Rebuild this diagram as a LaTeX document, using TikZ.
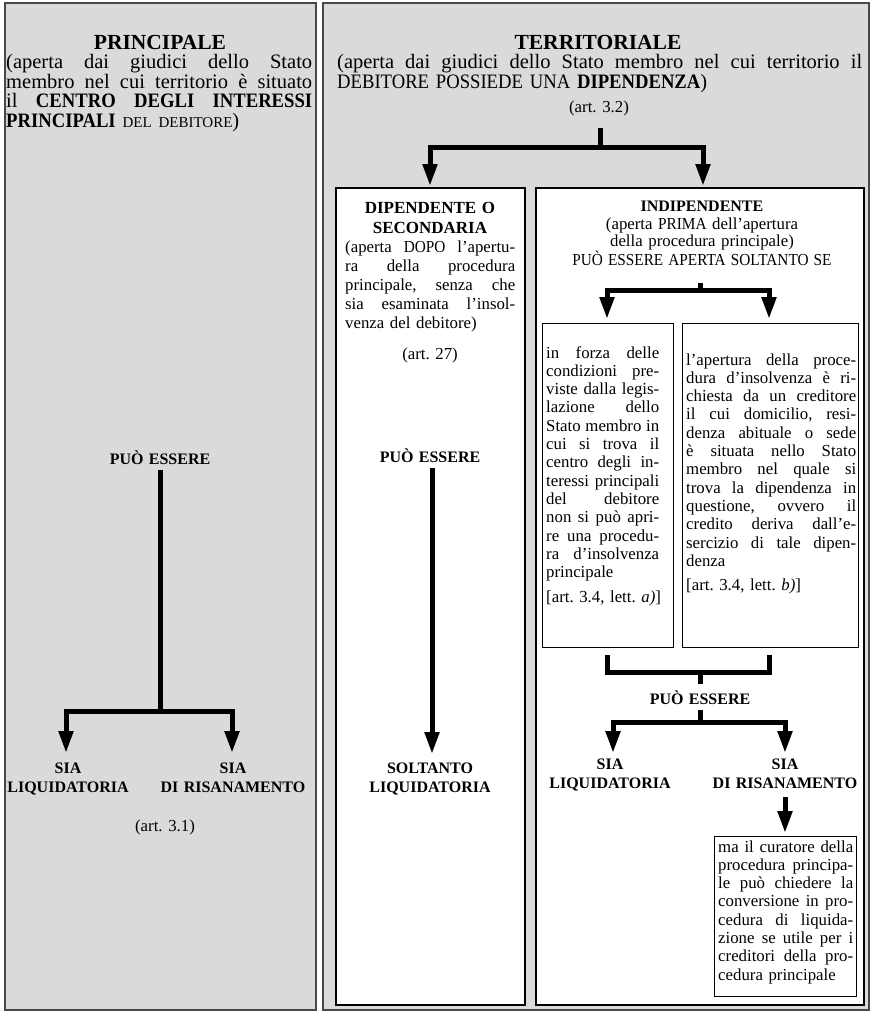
\documentclass[tikz,border=0pt]{standalone}
\usepackage{fontspec}
\usepackage{graphicx}
\setmainfont{Liberation Serif}
\usetikzlibrary{arrows.meta}
\definecolor{panelgray}{RGB}{217,218,220}
\definecolor{framegray}{RGB}{72,72,72}
\newcommand\J[1]{\makebox[\hsize][s]{\spaceskip=0pt\xspaceskip=0pt #1}}
\newcommand\Cn[1]{\scalebox{0.91}[1]{#1}}
\hfuzz=200pt
\frenchspacing
\begin{document}
\begin{tikzpicture}[x=1pt,y=-1pt,
  panel/.style={draw=framegray,fill=panelgray,line width=2pt},
  wbox/.style={draw=black,fill=white,line width=1.3pt},
  sbox/.style={draw=black,fill=white,line width=1pt},
  title/.style={font=\fontsize{21.5}{24}\selectfont\bfseries,inner sep=0pt,anchor=base},
  hdr/.style={font=\fontsize{20.5}{19.5}\selectfont\parindent0pt\frenchspacing,inner sep=0pt,align=left,anchor=base west},
  body/.style={font=\fontsize{16.8}{18.3}\selectfont\parindent0pt\frenchspacing,inner sep=0pt,align=left,anchor=base west},
  ctext/.style={font=\fontsize{16.8}{17.5}\selectfont\frenchspacing,inner sep=0pt,align=center,anchor=base,text width=300pt},
  lbl/.style={font=\fontsize{16}{19.5}\selectfont\bfseries,inner sep=0pt,align=center,anchor=base,text width=200pt},
  bar/.style={line width=5pt},
  arr/.style={line width=5pt,-{Triangle[length=22pt,width=14pt]}}]
\useasboundingbox (0,0) rectangle (873,1012);
% panels
\draw[panel] (5,3) rectangle (316,1010);
\draw[panel] (323,3) rectangle (869,1010);
\draw[wbox] (336,188) rectangle (525,1005);
\draw[wbox] (536,188) rectangle (864,1005);
\draw[sbox] (542,323) rectangle (673,647);
\draw[sbox] (682,323) rectangle (858,647);
\draw[sbox] (714,836) rectangle (856,996);

% ---------- left panel ----------
\node[title] (ptitle) at (160,49) {PRINCIPALE};
\node[hdr,text width=306pt] (pbody) at (6,68.5) {%
\J{(aperta dai giudici dello Stato}\\
\J{membro nel cui territorio è situato}\\
\J{il \Cn{\textbf{CENTRO}} \Cn{\textbf{DEGLI}} \Cn{\textbf{INTERESSI}}}\\
\Cn{\textbf{PRINCIPALI}} {\fontsize{15}{19.5}\selectfont DEL DEBITORE})};
\node[lbl] (pe1) at (160,464) {PUÒ ESSERE};
\coordinate (s1a) at (160,470);
\coordinate (s1b) at (160,711);
\coordinate (t1l) at (66,753);
\coordinate (t1r) at (232,753);
\draw[bar] (s1a) -- (s1b);
\draw[arr] (s1b) -| (t1l);
\draw[arr] (s1b) -| (t1r);
\node[lbl] (liq1) at (68,773) {SIA\\LIQUIDATORIA};
\node[lbl] (ris1) at (233,773) {SIA\\DI RISANAMENTO};
\node[ctext] (art31) at (165,831) {(art. 3.1)};

% ---------- right panel ----------
\node[title] (ttitle) at (598,49) {TERRITORIALE};
\node[hdr,text width=525pt] (tbody) at (337,68.5) {%
\J{(aperta dai giudici dello Stato membro nel cui territorio il}\\
\Cn{DEBITORE} \Cn{POSSIEDE} \Cn{UNA} \Cn{\textbf{DIPENDENZA}})};
\node[ctext] (art32) at (599,112) {(art. 3.2)};
\coordinate (s2a) at (600,128);
\coordinate (s2b) at (600,147);
\coordinate (t2l) at (430,186);
\coordinate (t2r) at (703,186);
\draw[bar] (s2a) -- (s2b);
\draw[arr] (s2b) -| (t2l);
\draw[arr] (s2b) -| (t2r);

% DIPENDENTE box
\node[lbl,font=\fontsize{17}{20}\selectfont\bfseries] (dtitle) at (430,213) {DIPENDENTE O\\SECONDARIA};
\node[body,text width=170pt,font=\fontsize{16.8}{19}\selectfont\parindent0pt] (dbody) at (345,252) {%
\J{(aperta \Cn{DOPO} l'apertu-}\\
\J{ra della procedura}\\
\J{principale, senza che}\\
\J{sia esaminata l'insol-}\\
venza del debitore)};
\node[ctext] (art27) at (430,359) {(art. 27)};
\node[lbl] (pe2) at (430,462) {PUÒ ESSERE};
\coordinate (s3a) at (432,468);
\coordinate (t3) at (432,754);
\draw[arr] (s3a) -- (t3);
\node[lbl] (solt) at (430,773) {SOLTANTO\\LIQUIDATORIA};

% INDIPENDENTE box
\node[lbl] (ititle) at (702,211) {INDIPENDENTE};
\node[ctext] (ibody) at (702,229) {(aperta \Cn{PRIMA} dell'apertura\\della procedura principale)\\\Cn{PUÒ ESSERE APERTA SOLTANTO SE}};
\coordinate (s4a) at (700,283);
\coordinate (s4b) at (700,290);
\coordinate (t4l) at (607,319);
\coordinate (t4r) at (769,319);
\draw[bar] (s4a) -- (s4b);
\draw[arr] (s4b) -| (t4l);
\draw[arr] (s4b) -| (t4r);

\node[body,text width=113pt] (abody) at (546,358) {%
\J{in forza delle}\\
\J{condizioni pre-}\\
\J{viste dalla legis-}\\
\J{lazione dello}\\
\J{Stato membro in}\\
\J{cui si trova il}\\
\J{centro degli in-}\\
\J{teressi principali}\\
\J{del debitore}\\
\J{non si può apri-}\\
\J{re una procedu-}\\
\J{ra d'insolvenza}\\
principale};
\node[body,text width=124pt] (arta) at (546,602) {[art. 3.4, lett. \textit{a)}]};

\node[body,text width=170pt] (bbody) at (686,365) {%
\J{l'apertura della proce-}\\
\J{dura d'insolvenza è ri-}\\
\J{chiesta da un creditore}\\
\J{il cui domicilio, resi-}\\
\J{denza abituale o sede}\\
\J{è situata nello Stato}\\
\J{membro nel quale si}\\
\J{trova la dipendenza in}\\
\J{questione, ovvero il}\\
\J{credito deriva dall'e-}\\
\J{sercizio di tale dipen-}\\
denza};
\node[body,text width=170pt] (artb) at (686,590) {[art. 3.4, lett. \textit{b)}]};

\coordinate (ua) at (607,655);
\coordinate (ub) at (769,655);
\coordinate (uj) at (700,672);
\coordinate (uk) at (700,684);
\draw[bar] (ua) |- (uj) -| (ub);
\draw[bar] (uj) -- (uk);
\node[lbl] (pe3) at (700,704) {PUÒ ESSERE};
\coordinate (s5a) at (700,710);
\coordinate (s5b) at (700,722);
\coordinate (t5l) at (613,753);
\coordinate (t5r) at (785,753);
\draw[bar] (s5a) -- (s5b);
\draw[arr] (s5b) -| (t5l);
\draw[arr] (s5b) -| (t5r);
\node[lbl] (liq2) at (610,769) {SIA\\LIQUIDATORIA};
\node[lbl] (ris2) at (785,769) {SIA\\DI RISANAMENTO};
\coordinate (s6a) at (785,797);
\coordinate (t6) at (785,833);
\draw[arr] (s6a) -- (t6);
\node[body,text width=135pt] (cbody) at (718,852) {%
\J{ma il curatore della}\\
\J{procedura principa-}\\
\J{le può chiedere la}\\
\J{conversione in pro-}\\
\J{cedura di liquida-}\\
\J{zione se utile per i}\\
\J{creditori della pro-}\\
cedura principale};
\end{tikzpicture}
\end{document}
